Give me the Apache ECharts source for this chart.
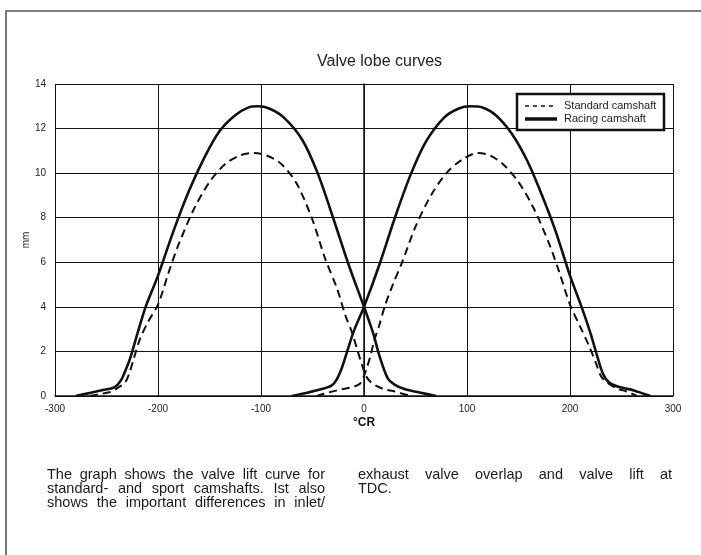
<!DOCTYPE html>
<html><head><meta charset="utf-8">
<script src="https://cdn.jsdelivr.net/npm/echarts/dist/echarts.min.js"></script>
<style>html,body{margin:0;padding:0;background:#fff}#c{width:701px;height:555px}</style>
</head><body><div id="c"></div>
<script>
// ---- data ----
const chartTitle = 'Valve lobe curves';
const xAxisName = '°CR';
const yAxisName = 'mm';
const legendNames = ['Standard camshaft', 'Racing camshaft'];
const xTickValues = [-300, -200, -100, 0, 100, 200, 300];
const yTickValues = [0, 2, 4, 6, 8, 10, 12, 14];

const standardInlet = [[-266,0],[-255,0.1],[-245,0.2],[-238,0.4],[-232,0.6],[-228,1.0],[-224,1.6],[-218,2.5],[-210,3.3],[-200,4.1],[-190,5.5],[-180,6.8],[-165,8.4],[-150,9.6],[-135,10.4],[-120,10.8],[-108,10.9],[-95,10.8],[-80,10.4],[-65,9.5],[-50,7.9],[-38,6.2],[-26,4.8],[-18,3.6],[-12,2.9],[-6,2.0],[-2,1.4],[2,0.9],[6,0.65],[12,0.45],[20,0.3],[30,0.2],[45,0]];
const standardExhaust = [[-46,0],[-35,0.15],[-22,0.3],[-11,0.4],[-4,0.55],[0,0.9],[3,1.3],[6,1.75],[10,2.5],[15,3.2],[20,4.0],[28,5.0],[37,6.0],[50,7.6],[65,9.0],[80,10.0],[95,10.6],[110,10.9],[122,10.8],[135,10.4],[150,9.6],[165,8.4],[180,6.8],[190,5.5],[200,4.1],[210,3.1],[218,2.3],[225,1.5],[230,0.9],[236,0.6],[245,0.35],[255,0.2],[265,0]];
const racingInlet = [[-280,0],[-265,0.15],[-252,0.28],[-242,0.4],[-236,0.7],[-232,1.1],[-227,1.7],[-220,2.8],[-212,4.0],[-200,5.4],[-185,7.4],[-170,9.2],[-155,10.7],[-140,11.9],[-125,12.6],[-112,12.95],[-103,13.0],[-92,12.9],[-78,12.5],[-60,11.5],[-45,10.0],[-30,8.0],[-15,5.9],[0,4.0],[9,2.8],[15,1.8],[23,0.8],[30,0.5],[40,0.3],[55,0.15],[70,0]];
const racingExhaust = [[-70,0],[-55,0.15],[-42,0.3],[-32,0.45],[-27,0.7],[-22,1.2],[-17,1.9],[-10,2.9],[0,4.0],[15,5.9],[30,8.0],[45,9.9],[60,11.4],[78,12.5],[92,12.9],[103,13.0],[115,12.95],[128,12.6],[143,11.8],[158,10.6],[172,9.1],[186,7.4],[200,5.4],[212,3.9],[220,2.8],[227,1.7],[232,1.0],[238,0.6],[248,0.4],[262,0.25],[278,0]];

const leftParagraph = ['The graph shows the valve lift curve for', 'standard- and sport camshafts. Ist also', 'shows the important differences in inlet/'];
const rightParagraph = ['exhaust valve overlap and valve lift at', 'TDC.'];

// ---- chart ----
const FONT = "'Liberation Sans', Arial, sans-serif";
const chart = echarts.init(document.getElementById('c'), null, {renderer: 'canvas'});

const measureCtx = document.createElement('canvas').getContext('2d');
function paragraph(lines, x0, width, y0, lh, size, justifyAll) {
  const font = size + 'px ' + FONT;
  measureCtx.font = font;
  const els = [];
  lines.forEach((line, i) => {
    const y = y0 + i * lh;
    const last = i === lines.length - 1 && !justifyAll;
    const words = line.split(' ');
    if (last || words.length < 2) {
      els.push({type: 'text', x: x0, y: y, style: {text: line, font: font, fill: '#1a1a1a', textVerticalAlign: 'middle'}});
      return;
    }
    const ws = words.map(w => measureCtx.measureText(w).width);
    const tot = ws.reduce((a, b) => a + b, 0);
    const gap = (width - tot) / (words.length - 1);
    let x = x0;
    words.forEach((w, k) => {
      els.push({type: 'text', x: x, y: y, style: {text: w, font: font, fill: '#1a1a1a', textVerticalAlign: 'middle'}});
      x += ws[k] + gap;
    });
  });
  return els;
}

function legendBox() {
  const x = 517, y = 94, w = 147, h = 36;
  return [
    {type: 'rect', z: 100, shape: {x: x, y: y, width: w, height: h}, style: {fill: '#fff', stroke: '#111', lineWidth: 2.5}},
    {type: 'line', z: 101, shape: {x1: 525, y1: 106, x2: 557, y2: 106}, style: {stroke: '#111', lineWidth: 1.5, lineDash: [4, 4]}},
    {type: 'line', z: 101, shape: {x1: 525, y1: 119, x2: 557, y2: 119}, style: {stroke: '#111', lineWidth: 3.5}},
    {type: 'text', z: 101, x: 564, y: 106, style: {text: legendNames[0], font: '11px ' + FONT, fill: '#222', textVerticalAlign: 'middle'}},
    {type: 'text', z: 101, x: 564, y: 118.5, style: {text: legendNames[1], font: '11px ' + FONT, fill: '#222', textVerticalAlign: 'middle'}}
  ];
}

const lineSolid = {color: '#111', width: 2.6, type: 'solid'};
const lineDash = {color: '#111', width: 2, type: [8, 5]};

const option = {
  animation: false,
  backgroundColor: '#fff',
  title: {
    text: chartTitle, left: 312, top: 49,
    textStyle: {fontSize: 16, fontWeight: 'normal', color: '#222', fontFamily: FONT}
  },
  legend: {show: false, data: legendNames},
  grid: {left: 55, right: 28, top: 84, bottom: 159, containLabel: false},
  xAxis: {
    type: 'value', min: xTickValues[0], max: xTickValues[xTickValues.length - 1], interval: 100,
    name: xAxisName, nameLocation: 'middle', nameGap: 21, nameMoveOverlap: false,
    nameTextStyle: {fontSize: 12, fontWeight: 'bold', color: '#111', fontFamily: FONT},
    axisLine: {show: true, lineStyle: {color: '#111', width: 1.5}},
    axisTick: {show: false},
    axisLabel: {fontSize: 10, color: '#222', margin: 8, fontFamily: FONT},
    splitLine: {show: true, lineStyle: {color: '#111', width: 1}}
  },
  yAxis: {
    type: 'value', min: yTickValues[0], max: yTickValues[yTickValues.length - 1], interval: 2,
    name: yAxisName, nameLocation: 'middle', nameGap: 24, nameMoveOverlap: false,
    nameTextStyle: {fontSize: 10, color: '#222', fontFamily: FONT},
    axisLine: {show: true, lineStyle: {color: '#111', width: 1.5}},
    axisTick: {show: true, length: 4, lineStyle: {color: '#111'}},
    axisLabel: {fontSize: 10, color: '#222', margin: 9, fontFamily: FONT},
    splitLine: {show: true, lineStyle: {color: '#111', width: 1}}
  },
  series: [
    {name: legendNames[0], type: 'line', data: standardInlet, symbol: 'none', smooth: 0.3, lineStyle: lineDash, itemStyle: {color: '#111'}},
    {name: legendNames[0], type: 'line', data: standardExhaust, symbol: 'none', smooth: 0.3, lineStyle: lineDash, itemStyle: {color: '#111'}},
    {name: legendNames[1], type: 'line', data: racingInlet, symbol: 'none', smooth: 0.3, lineStyle: lineSolid, itemStyle: {color: '#111'}},
    {name: legendNames[1], type: 'line', data: racingExhaust, symbol: 'none', smooth: 0.3, lineStyle: lineSolid, itemStyle: {color: '#111'}}
  ],
  graphic: [
    {type: 'rect', shape: {x: 6, y: 11, width: 720, height: 570}, style: {fill: 'none', stroke: '#555', lineWidth: 1.6}, silent: true}
  ].concat(legendBox())
   .concat(paragraph(leftParagraph, 47, 278, 475, 14, 14.5, true))
   .concat(paragraph(rightParagraph, 358, 314, 475, 14, 14.5, false))
};
chart.setOption(option);
</script>
</body></html>
